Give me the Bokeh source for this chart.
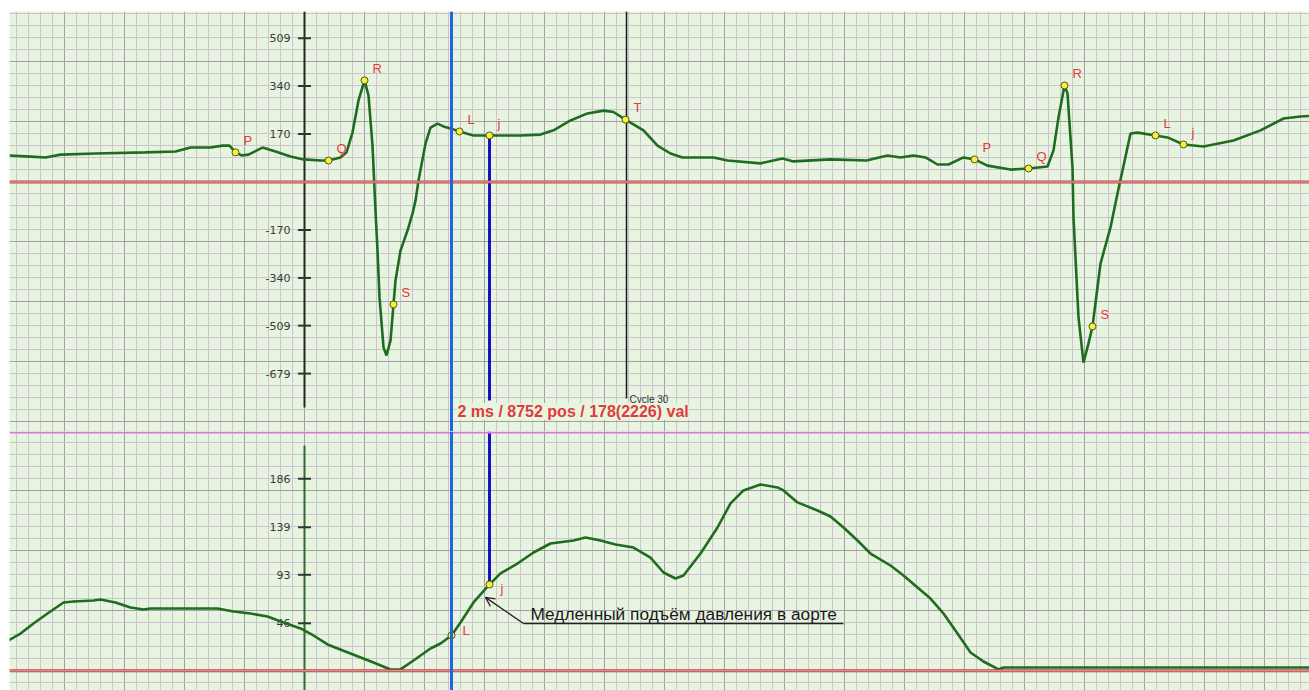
import numpy as np
from bokeh.plotting import figure
from bokeh.layouts import column
from bokeh.models import Range1d, Span, Grid, FixedTicker, Label, Arrow, OpenHead
from bokeh.core.properties import value
from bokeh.embed import file_html
from bokeh.resources import INLINE

# ---------------- data ----------------
# ECG lead (top panel): time in ms, amplitude
ecg_t = [-295, -274, -259, -244, -209, -159, -129, -114, -94, -82, -75, -69, -63, -56, -42, -29, -14, -1,
         16, 24, 36, 42, 48, 54, 60, 64, 68, 71, 73, 75, 79, 82, 86, 89, 91, 96, 103, 108, 111, 114,
         121, 126, 133, 139, 146, 155, 169, 185, 216, 236, 249, 266, 283, 299, 309, 321, 339, 353,
         366, 378, 409, 423, 456, 478, 489, 526, 562, 583, 596, 609, 621, 633, 644, 659, 670, 683,
         706, 724, 743, 749, 754, 760, 763, 768, 769, 774, 779, 784, 788, 796, 806, 813, 818, 826,
         833, 851, 863, 879, 899, 929, 956, 979, 996, 1005]
ecg_v = [94, 90, 87, 97, 101, 105, 108, 122, 122, 129, 129, 105, 94, 97, 122, 108, 90, 80,
         76, 76, 87, 105, 175, 289, 360, 307, 129, -101, -243, -409, -586, -615, -562, -434, -349, -243, -172, -112, -66, 5,
         136, 193, 207, 197, 190, 179, 165, 165, 165, 168, 183, 218, 243, 253, 248, 221, 183, 129,
         101, 87, 87, 76, 66, 83, 73, 80, 76, 94, 87, 94, 87, 62, 62, 87, 80, 58,
         44, 48, 55, 112, 229, 342, 314, 51, -126, -480, -640, -572, -512, -289, -161, -41, 41, 172,
         175, 165, 158, 133, 126, 147, 183, 225, 232, 234]

# Aortic pressure (bottom panel): time in ms, mmHg
prs_t = [-296, -284, -271, -257, -241, -231, -211, -204, -189, -174, -161, -154, -87, -71, -54, -37, -21, -4,
         9, 23, 46, 69, 86, 96, 109, 126, 136, 147, 156, 169, 185, 196, 213, 229, 246, 269, 281, 296,
         311, 329, 346, 359, 371, 379, 396, 413, 426, 439, 456, 473, 479, 493, 513, 526, 539, 553,
         566, 586, 599, 613, 626, 639, 653, 666, 679, 694, 699, 866, 1005]
prs_v = [29.4, 36.1, 45.8, 55.5, 66.2, 67.1, 68.1, 69.0, 66.2, 61.3, 59.4, 60.4, 60.4, 57.4, 55.5, 52.6, 46.8, 41.0,
         34.2, 25.5, 16.8, 8.0, 1.3, 1.3, 10.0, 21.6, 26.4, 34.2, 46.8, 66.2, 83.6, 94.3, 103.9, 114.6, 123.3, 126.2, 129.1, 126.2,
         122.4, 119.4, 109.7, 95.2, 89.4, 92.3, 113.6, 138.8, 162.1, 174.7, 180.5, 177.6, 174.7, 163.1, 155.3, 149.5, 138.8, 126.2,
         113.6, 102.0, 92.3, 80.7, 70.0, 55.5, 36.1, 17.7, 9.0, 1.3, 3.2, 3.2, 3.2]

ecg_marks = ["P", "Q", "R", "S", "L", "j", "T", "P", "Q", "R", "S", "L", "j"]
ecg_mark_t = [-69, 24, 60, 89, 155, 185, 321, 670, 724, 760, 788, 851, 879]
ecg_mark_v = [105, 76, 360, -434, 179, 165, 221, 80, 48, 342, -512, 165, 133]

prs_marks = ["L", "j"]
prs_mark_t = [147, 185]
prs_mark_v = [34.2, 83.6]

ecg_ticks = [509, 340, 170, -170, -340, -509, -679]
prs_ticks = [186, 139, 93, 46]

cursor_L = 147
cursor_j = 185
cursor_T = 322

readout = "2 ms / 8752 pos / 178(2226) val"
cycle_label = "Cycle 30"
note = "Медленный подъём давления в аорте"

# ---------------- style ----------------
BG = "#e7f5e0"
MINOR = "#cdc2cf"
MAJOR = "#a3a0a5"
TRACE = "#1f6b1f"
RED = "#e23b3b"
LBLUE = "#1f66e0"
DBLUE = "#1414c4"
FONT = "Liberation Sans"

TOP_Y = (-884.2, 604.2)
BOT_Y = (-19.1, 231.8)
X_R = (-295, 1005)
ECG_GRID = 60 * 3.5438
PRS_GRID = 60 * 0.96875


def paper(p, ystep):
    p.grid.visible = False
    xmaj = [float(v) for v in np.arange(-300, 1021, 60)]
    xmin = [float(v) for v in np.arange(-300, 1021, 12)]
    ymaj = [float(v) for v in np.arange(-10, 11) * ystep]
    ymin = [float(v) for v in np.arange(-50, 51) * ystep / 5]
    for dim, maj, mnr in ((0, xmaj, xmin), (1, ymaj, ymin)):
        g = Grid(dimension=dim, ticker=FixedTicker(ticks=maj, minor_ticks=mnr),
                 grid_line_color=MAJOR, grid_line_width=1,
                 minor_grid_line_color=MINOR, minor_grid_line_width=1)
        p.add_layout(g)


def make_fig(h, yr, top_border):
    p = figure(width=1309, height=h, x_range=Range1d(*X_R), y_range=Range1d(*yr),
               output_backend="svg", toolbar_location=None,
               x_axis_location=None, y_axis_location=None,
               min_border_left=9, min_border_right=0, min_border_top=top_border, min_border_bottom=0,
               background_fill_color=BG, border_fill_color="white", outline_line_color=None)
    return p


def baseline(p):
    p.add_layout(Span(location=0, dimension="width", line_color="#c04646", line_width=3))
    p.add_layout(Span(location=0, dimension="width", line_color="#eba6a6", line_width=1))


def axis_ticks(p, ticks):
    half = 6.5
    p.segment(x0=[-half] * len(ticks), x1=[half] * len(ticks), y0=ticks, y1=ticks,
              line_color="#333333", line_width=2)
    p.text(x=[-14] * len(ticks), y=ticks, text=[str(t) for t in ticks],
           text_font=value("DejaVu Sans"), text_font_size="11px", text_color="#3a3a3a",
           text_align="right", text_baseline="middle")


# ---------------- top panel (ECG) ----------------
p1 = make_fig(431, TOP_Y, 11)
paper(p1, ECG_GRID)
baseline(p1)
p1.segment(x0=[0], x1=[0], y0=[TOP_Y[1]], y1=[-799], line_color="#262626", line_width=2)
axis_ticks(p1, ecg_ticks)
p1.add_layout(Span(location=cursor_L, dimension="height", line_color=LBLUE, line_width=3))
p1.segment(x0=[cursor_j], x1=[cursor_j], y0=[ecg_mark_v[5]], y1=[-774], line_color=DBLUE, line_width=3)
p1.segment(x0=[cursor_T], x1=[cursor_T], y0=[TOP_Y[1]], y1=[-767], line_color="#1a1a1a", line_width=1.5)
p1.line(ecg_t, ecg_v, line_color=TRACE, line_width=2.6)
p1.scatter(ecg_mark_t, ecg_mark_v, marker="circle", size=7, fill_color="#f4f23a",
           line_color="#555515", line_width=1)
p1.text(x=ecg_mark_t, y=ecg_mark_v, text=ecg_marks, x_offset=8, y_offset=-12,
        text_font=value(FONT), text_font_size="13px", text_color=RED,
        text_align="left", text_baseline="middle")
p1.text(x=[cursor_T + 3], y=[-772], text=[cycle_label], text_font=value(FONT),
        text_font_size="10px", text_color="#333333", text_align="left", text_baseline="middle")
p1.add_layout(Label(x=cursor_L + 6, y=-813, text=readout, text_color=RED, text_font=FONT,
                    text_font_style="bold", text_font_size="16px", text_baseline="middle",
                    text_align="left", background_fill_color=BG, background_fill_alpha=1.0))

# ---------------- bottom panel (pressure) ----------------
p2 = make_fig(259, BOT_Y, 0)
paper(p2, PRS_GRID)
baseline(p2)
p2.add_layout(Span(location=230.8, dimension="width", line_color="#dd77dd", line_width=2))
p2.segment(x0=[0], x1=[0], y0=[218], y1=[BOT_Y[0]], line_color="#2f6a2f", line_width=2)
axis_ticks(p2, prs_ticks)
p2.add_layout(Span(location=cursor_L, dimension="height", line_color=LBLUE, line_width=3))
p2.segment(x0=[cursor_j], x1=[cursor_j], y0=[BOT_Y[1]], y1=[prs_mark_v[1]], line_color=DBLUE, line_width=3)
p2.line(prs_t, prs_v, line_color=TRACE, line_width=2.6)
p2.scatter(prs_mark_t, prs_mark_v, marker="circle", size=7, fill_color="#f4f23a",
           line_color="#555515", line_width=1)
p2.text(x=prs_mark_t, y=prs_mark_v, text=prs_marks, x_offset=[11, 11], y_offset=[-5, 4],
        text_font=value(FONT), text_font_size="13px", text_color=RED,
        text_align="left", text_baseline="middle")
NOTE_X0, NOTE_X1, NOTE_Y = 219, 539, 45.8
p2.line([NOTE_X0, NOTE_X1], [NOTE_Y, NOTE_Y], line_color="#222222", line_width=1.3)
p2.add_layout(Arrow(end=OpenHead(size=9, line_color="#222222", line_width=1.3),
                    x_start=NOTE_X0, y_start=NOTE_Y, x_end=prs_mark_t[1] - 4, y_end=prs_mark_v[1] - 12.5,
                    line_color="#222222", line_width=1.3))
p2.text(x=[NOTE_X0 + 7], y=[NOTE_Y + 9.5], text=[note], text_font=value(FONT),
        text_font_size="17.3px", text_color="#1a1a1a", text_align="left", text_baseline="alphabetic")

layout = column(p1, p2, spacing=0)
open("out.html", "w").write(file_html(layout, INLINE))
